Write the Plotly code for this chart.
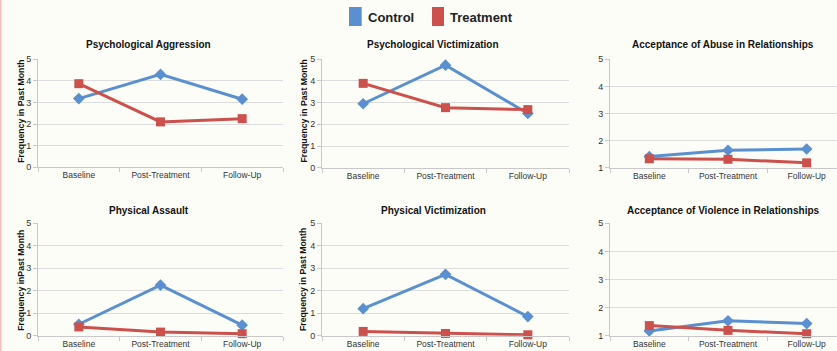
import plotly.graph_objects as go

W, H = 837, 351

phases = ["Baseline", "Post-Treatment", "Follow-Up"]
series_names = ["Control", "Treatment"]

titles = [
    "Psychological Aggression",
    "Psychological Victimization",
    "Acceptance of Abuse in Relationships",
    "Physical Assault",
    "Physical Victimization",
    "Acceptance of Violence in Relationships",
]
y_titles = [
    "Frequency in Past Month",
    "Frequency in Past Month",
    None,
    "Frequency inPast Month",
    "Frequency in Past Month",
    None,
]

control = [
    [3.18, 4.30, 3.15],
    [2.95, 4.73, 2.50],
    [1.41, 1.64, 1.69],
    [0.51, 2.25, 0.47],
    [1.20, 2.73, 0.85],
    [1.17, 1.53, 1.43],
]
treatment = [
    [3.87, 2.10, 2.25],
    [3.89, 2.77, 2.68],
    [1.33, 1.31, 1.18],
    [0.39, 0.16, 0.09],
    [0.19, 0.10, 0.04],
    [1.36, 1.19, 1.07],
]
y_min = [0, 0, 1, 0, 0, 1]
y_max = [5, 5, 5, 5, 5, 5]

BLUE = "#5a8fd0"
RED = "#cc504c"
BG = "#fdfdf8"
FONT = "Liberation Sans, Arial, sans-serif"

# pixel layout of each plot area: (left, right, top, bottom)
boxes = [
    (38, 283, 59.3, 167.2),
    (322, 569, 59.3, 167.7),
    (610, 846, 59.3, 167.7),
    (38, 283, 223.3, 335.7),
    (322, 569, 223.3, 335.7),
    (610, 846, 223.3, 335.7),
]
title_pos = [(148, 45), (433, 45), (723, 45), (149, 210), (433, 210), (723, 210)]
ytitle_pos = [(20.7, 111), (303, 111.5), None, (20.7, 280), (303, 280), None]


def px(x):
    return x / W


def py(y):
    return 1 - y / H


fig = go.Figure()
layout = dict(
    width=W, height=H,
    margin=dict(l=0, r=0, t=0, b=0, autoexpand=False),
    paper_bgcolor=BG, plot_bgcolor=BG,
    showlegend=False,
    font=dict(family=FONT, color="#222"),
)
annotations = []
shapes = []

for i in range(6):
    n = i + 1
    xa = "x" if n == 1 else f"x{n}"
    ya = "y" if n == 1 else f"y{n}"
    l, r, t, b = boxes[i]
    cat_w = (r - l) / 3.0
    r_clip = min(r, W)
    x_hi = 2.5 - (r - r_clip) / cat_w
    fig.add_trace(go.Scatter(
        x=phases, y=control[i], name=series_names[0], mode="lines+markers",
        line=dict(color=BLUE, width=3),
        marker=dict(symbol="diamond", size=9, color=BLUE),
        xaxis=xa, yaxis=ya, cliponaxis=False,
    ))
    fig.add_trace(go.Scatter(
        x=phases, y=treatment[i], name=series_names[1], mode="lines+markers",
        line=dict(color=RED, width=3),
        marker=dict(symbol="square", size=9, color=RED),
        xaxis=xa, yaxis=ya, cliponaxis=False,
    ))
    xkey = "xaxis" if n == 1 else f"xaxis{n}"
    ykey = "yaxis" if n == 1 else f"yaxis{n}"
    layout[xkey] = dict(
        domain=[px(l), px(r_clip)], anchor=ya, type="category",
        range=[-0.5, x_hi], showgrid=False, zeroline=False, automargin=False,
        showline=True, linecolor="#c8c8c8", linewidth=1,
        ticks="outside", tickson="boundaries", ticklen=4, tickcolor="#c8c8c8",
        tickfont=dict(family=FONT, size=8.5, color="#333"),
        fixedrange=True,
    )
    layout[ykey] = dict(
        domain=[py(b), py(t)], anchor=xa, automargin=False,
        range=[y_min[i], y_max[i]], dtick=1, tick0=0,
        showgrid=True, gridcolor="#dcdcdc", gridwidth=1, zeroline=False,
        showline=True, linecolor="#c8c8c8", linewidth=1,
        ticks="outside", ticklen=4, tickcolor="#c8c8c8",
        tickfont=dict(family=FONT, size=9, color="#333"),
        fixedrange=True,
    )
    tx, ty = title_pos[i]
    annotations.append(dict(
        text=f"<b>{titles[i]}</b>", x=px(tx), y=py(ty), xref="paper", yref="paper",
        xanchor="center", yanchor="middle", showarrow=False,
        font=dict(family=FONT, size=10, color="#111"),
    ))
    if y_titles[i]:
        yx, yy = ytitle_pos[i]
        annotations.append(dict(
            text=f"<b>{y_titles[i]}</b>", x=px(yx), y=py(yy), xref="paper", yref="paper",
            xanchor="center", yanchor="middle", showarrow=False, textangle=-90,
            font=dict(family=FONT, size=8.7, color="#111"),
        ))

# legend drawn manually at the top centre
legend_items = [(349, 361.7, 366, series_names[0], BLUE), (432, 444, 448, series_names[1], RED)]
for x0, x1, tx, label, col in legend_items:
    shapes.append(dict(type="rect", xref="paper", yref="paper",
                       x0=px(x0), x1=px(x1), y0=py(26), y1=py(7),
                       fillcolor=col, line=dict(width=0)))
    annotations.append(dict(
        text=f"<b>{label}</b>", x=px(tx), y=py(17.5), xref="paper", yref="paper",
        xanchor="left", yanchor="middle", showarrow=False,
        font=dict(family=FONT, size=13, color="#222"),
    ))

# thin pink edge on the left border
shapes.append(dict(type="line", xref="paper", yref="paper", x0=px(0.8), x1=px(0.8), y0=0, y1=1,
                   line=dict(color="#f3bcbc", width=1.5)))

layout["annotations"] = annotations
layout["shapes"] = shapes
fig.update_layout(**layout)
fig.write_html(
    "out.html",
    config={"displayModeBar": False},
    post_script="document.body.style.margin='0px';document.body.style.padding='0px';"
                "document.body.style.background='" + BG + "';",
)
